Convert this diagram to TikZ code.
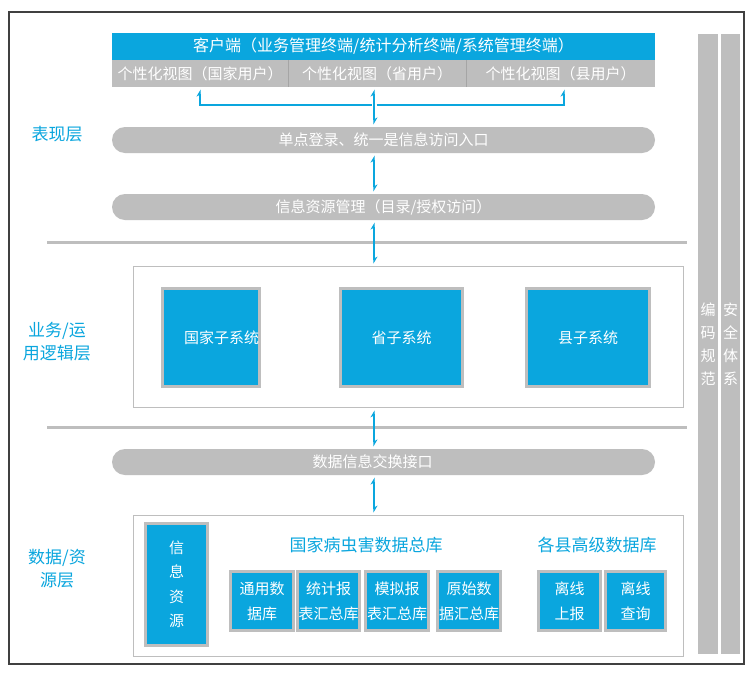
\documentclass[tikz,border=0pt]{standalone}
\usepackage{fontspec}
\setmainfont{Noto Sans CJK SC}
\usetikzlibrary{arrows.meta}
\definecolor{cblue}{RGB}{10,166,222}
\definecolor{cgray}{RGB}{190,190,190}
\definecolor{cframe}{RGB}{64,64,64}
\definecolor{cdiv}{RGB}{165,165,165}
\begin{document}
\begin{tikzpicture}[x=1pt,y=-1pt,
  >={Stealth[harpoon,length=6pt,width=7pt]},
  blk/.style={fill=cblue, draw=cgray, line width=3pt, text=white, inner sep=0pt,
    font=\fontsize{15}{25}\selectfont, align=center},
  pill/.style={fill=cgray, rounded corners=13pt, text=white, inner sep=0pt,
    minimum width=543pt, minimum height=26pt, font=\fontsize{15}{18}\selectfont},
  cell/.style={fill=cgray, text=white, inner sep=0pt, minimum height=27pt,
    font=\fontsize{15}{18}\selectfont},
  lay/.style={text=cblue, font=\fontsize{17}{23}\selectfont, align=center},
  dbtitle/.style={text=cblue, font=\fontsize{17}{20}\selectfont},
  panel/.style={draw=cgray, line width=1pt, inner sep=0pt},
  bar/.style={fill=cgray, text=white, inner sep=0pt, minimum height=620pt,
    font=\fontsize{15}{23}\selectfont, align=center},
  con/.style={draw=cblue, line width=1.8pt, shorten <=2.5pt, shorten >=2.5pt},
  sep/.style={draw=cgray, line width=3pt}
]
\useasboundingbox (0,0) rectangle (750,678);
\fill[white] (0,0) rectangle (750,678);
% outer frame
\draw[cframe, line width=2.5pt] (9,12) rectangle (744,664);

% side bars
\node[bar, minimum width=20pt] (bar1) at (708,344) {编\\码\\规\\范};
\node[bar, minimum width=19pt] (bar2) at (730.5,344) {安\\全\\体\\系};

% separators
\draw[sep] (47,242) -- (687,242);
\draw[sep] (47,427) -- (687,427);

% layer labels
\node[lay] (l1) at (57,134) {表现层};
\node[lay] (l2) at (57,341.5) {业务/运\\用逻辑层};
\node[lay] (l3) at (57,568.5) {数据/资\\源层};

% presentation layer
\node[fill=cblue, text=white, inner sep=0pt, minimum width=543pt, minimum height=27pt,
  font=\fontsize{16}{18}\selectfont] (title) at (383.5,46.5)
  {客户端（业务管理终端/统计分析终端/系统管理终端）};
\node[cell, minimum width=176pt] (c1) at (200,73.5) {个性化视图（国家用户）};
\node[cell, minimum width=178pt] (c2) at (377,73.5) {个性化视图（省用户）};
\node[cell, minimum width=189pt] (c3) at (560.5,73.5) {个性化视图（县用户）};
\draw[cdiv, line width=1pt] (c1.north east) -- (c1.south east);
\draw[cdiv, line width=1pt] (c2.north east) -- (c2.south east);

\node[pill] (p1) at (383.5,140) {单点登录、统一是信息访问入口};
\node[pill] (p2) at (383.5,207) {信息资源管理（目录/授权访问）};

% business layer
\node[panel, minimum width=550pt, minimum height=141pt] (mid) at (408.5,337) {};
\node[blk, minimum width=94pt, minimum height=98pt] (s1) at (210.5,337.5) {\hspace*{22pt}国家子系统};
\node[blk, minimum width=122pt, minimum height=98pt] (s2) at (401.5,337.5) {省子系统};
\node[blk, minimum width=123pt, minimum height=98pt] (s3) at (588,337.5) {县子系统};

\node[pill] (p3) at (383.5,462) {数据信息交换接口\hspace*{22pt}};

% data layer
\node[panel, minimum width=550pt, minimum height=141pt] (bot) at (408.5,586) {};
\node[blk, minimum width=62pt, minimum height=122pt, font=\fontsize{15}{24.5}\selectfont] (info) at (176.5,584.5) {信\\息\\资\\源};
\node[dbtitle] (t1) at (366,545) {国家病虫害数据总库};
\node[dbtitle] (t2) at (597,545) {各县高级数据库};
\node[blk, minimum width=63pt, minimum height=59pt] (d1) at (262,601) {通用数\\据库};
\node[blk, minimum width=62pt, minimum height=59pt] (d2) at (328.5,601) {统计报\\表汇总库};
\node[blk, minimum width=63pt, minimum height=59pt] (d3) at (397,601) {模拟报\\表汇总库};
\node[blk, minimum width=63pt, minimum height=59pt] (d4) at (469,601) {原始数\\据汇总库};
\node[blk, minimum width=62pt, minimum height=59pt] (d5) at (569.5,601) {离线\\上报};
\node[blk, minimum width=60pt, minimum height=59pt] (d6) at (635.5,601) {离线\\查询};

% connectors
\coordinate (ax) at (374,0);
\coordinate (a3) at (564,0);
\coordinate (j) at (374,105);
\draw[con, ->] (j) -| (c1.south);
\draw[con, ->] (j) -| (c3.south -| a3);
\draw[con, <->] (c2.south -| ax) -- (p1.north -| ax);
\draw[con, <->] (p1.south -| ax) -- (p2.north -| ax);
\draw[con, <->] (p2.south -| ax) -- (mid.north -| ax);
\draw[con, <->] (mid.south -| ax) -- (p3.north -| ax);
\draw[con, <->] (p3.south -| ax) -- (bot.north -| ax);
\end{tikzpicture}
\end{document}
